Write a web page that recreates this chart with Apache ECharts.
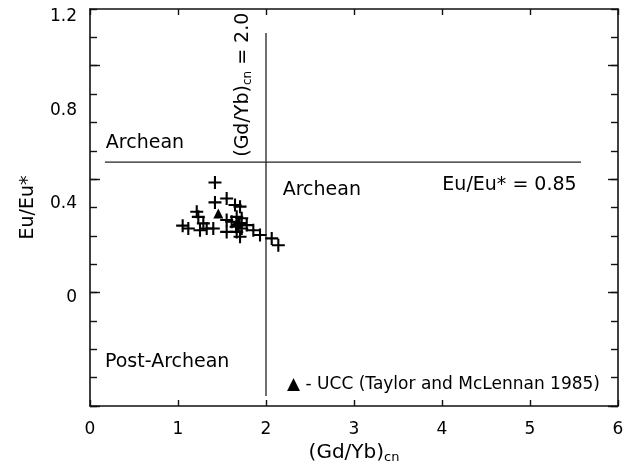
<!DOCTYPE html>
<html>
<head>
<meta charset="utf-8">
<script src="https://cdn.jsdelivr.net/npm/echarts@6/dist/echarts.min.js"></script>
<style>html,body{margin:0;padding:0;background:#fff}#c{width:633px;height:472px}</style>
</head>
<body>
<div id="c"></div>
<script>
// ---- data ----
const gdybCn = [1.42, 1.42, 1.553, 1.648, 1.705, 1.213, 1.553, 1.053, 1.117, 1.231, 1.288, 1.25, 1.326, 1.401, 1.553, 1.61, 1.667, 1.724, 1.685, 1.724, 1.667, 1.705, 1.781, 1.856, 1.932, 2.065, 2.14, 1.70, 1.66];
const euEuStar = [0.788, 0.718, 0.732, 0.709, 0.703, 0.685, 0.656, 0.636, 0.626, 0.667, 0.644, 0.62, 0.626, 0.626, 0.614, 0.65, 0.667, 0.662, 0.638, 0.626, 0.614, 0.597, 0.638, 0.62, 0.603, 0.591, 0.567, 0.645, 0.632];
const uccGdYb = [1.458];
const uccEuEu = [0.679];
const gdybLimitLine = [[2.0, 0.035], [2.0, 1.315]];
const euLimitLine = [[0.17, 0.86], [5.58, 0.86]];
const xTicks = [0, 1, 2, 3, 4, 5, 6];
const yTickLabels = [0, 0.4, 0.8, 1.2];
const annotationTexts = ['Archean', 'Archean', 'Eu/Eu* = 0.85', 'Post-Archean', '▲ - UCC (Taylor and McLennan 1985)', '(Gd/Yb){s|cn} = 2.0'];
const annotationX = [0.18, 2.19, 5.53, 0.17, 5.795, 1.74];
const annotationY = [0.928, 0.762, 0.779, 0.154, 0.076, 1.133];

// ---- styling ----
const FONT = 'DejaVu Sans';
const INK = '#000';
const AXIS = '#111';
const annoStyle = [
  {align: 'left', size: 19},
  {align: 'left', size: 19},
  {align: 'right', size: 19},
  {align: 'left', size: 19},
  {align: 'right', size: 17},
  {align: 'center', size: 19, rotate: 90}
];

const chart = echarts.init(document.getElementById('c'), null, {renderer: 'canvas'});

const baseY = {min: 0, max: 1.4, interval: 0.1};
const frameLine = {show: true, onZero: false, lineStyle: {color: AXIS, width: 1.6}};
const tickStyle = {color: AXIS, width: 1.4};

const option = {
  animation: false,
  backgroundColor: '#fff',
  textStyle: {fontFamily: FONT},
  grid: {left: 90, right: 15, top: 9, bottom: 66, containLabel: false},
  xAxis: [
    {
      type: 'value', position: 'bottom', min: xTicks[0], max: xTicks[xTicks.length - 1], interval: 1,
      axisLine: frameLine,
      axisTick: {show: true, inside: true, length: 6, lineStyle: tickStyle},
      axisLabel: {show: true, margin: 15, fontSize: 17, color: INK, fontFamily: FONT},
      splitLine: {show: false},
      name: '(Gd/Yb){s|cn}', nameLocation: 'middle', nameGap: 35,
      nameTextStyle: {fontSize: 20, color: INK, fontFamily: FONT,
        rich: {s: {fontSize: 13, color: INK, fontFamily: FONT, padding: [9, 0, 0, 0]}}}
    },
    {
      type: 'value', position: 'top', min: 0, max: 6, interval: 1,
      axisLine: frameLine,
      axisTick: {show: true, inside: true, length: 6, lineStyle: tickStyle},
      axisLabel: {show: false}, splitLine: {show: false}
    }
  ],
  yAxis: [
    Object.assign({
      type: 'value', position: 'left',
      axisLine: frameLine,
      axisTick: {show: true, inside: true, length: 7, lineStyle: tickStyle},
      axisLabel: {show: false}, splitLine: {show: false},
      name: 'Eu/Eu*', nameLocation: 'middle', nameGap: 52, nameRotate: 90,
      nameTextStyle: {fontSize: 19, color: INK, fontFamily: FONT}
    }, baseY),
    Object.assign({
      type: 'value', position: 'right',
      axisLine: frameLine,
      axisTick: {show: true, inside: true, length: 7, lineStyle: tickStyle},
      axisLabel: {show: false}, splitLine: {show: false}
    }, baseY),
    {
      // printed tick labels of the reference (offset from the tick marks)
      type: 'value', position: 'left', min: -0.4627, max: 1.2323,
      axisLine: {show: false, onZero: false}, axisTick: {show: false}, splitLine: {show: false},
      axisLabel: {show: true, customValues: yTickLabels, margin: 13, fontSize: 17, color: INK, fontFamily: FONT,
        formatter: v => String(Math.round(v * 10) / 10)}
    },
    {
      // longer major ticks, left
      type: 'value', position: 'left', min: 0, max: 1.4,
      axisLine: {show: false, onZero: false}, splitLine: {show: false}, axisLabel: {show: false},
      axisTick: {show: true, inside: true, length: 10, customValues: [0, 0.4, 0.8, 1.2], lineStyle: tickStyle}
    },
    {
      // longer major ticks, right
      type: 'value', position: 'right', min: 0, max: 1.4,
      axisLine: {show: false, onZero: false}, splitLine: {show: false}, axisLabel: {show: false},
      axisTick: {show: true, inside: true, length: 10, customValues: [0, 0.4, 0.8, 1.2], lineStyle: tickStyle}
    }
  ],
  series: [
    {
      type: 'line', xAxisIndex: 0, yAxisIndex: 0, data: gdybLimitLine, symbol: 'none',
      lineStyle: {color: '#222', width: 1.3}, silent: true, z: 2
    },
    {
      type: 'line', xAxisIndex: 0, yAxisIndex: 0, data: euLimitLine, symbol: 'none',
      lineStyle: {color: '#222', width: 1.3}, silent: true, z: 2
    },
    {
      type: 'scatter', xAxisIndex: 0, yAxisIndex: 0,
      data: gdybCn.map((x, i) => [x, euEuStar[i]]),
      symbol: 'path://M-1,0L1,0M0,-1L0,1', symbolSize: 13,
      itemStyle: {color: 'rgba(0,0,0,0)', borderColor: '#000', borderWidth: 2.1, opacity: 1}, z: 3
    },
    {
      type: 'scatter', xAxisIndex: 0, yAxisIndex: 0,
      data: uccGdYb.map((x, i) => [x, uccEuEu[i]]),
      symbol: 'triangle', symbolSize: 10, itemStyle: {color: '#000', opacity: 1}, z: 4
    },
    {
      type: 'scatter', xAxisIndex: 0, yAxisIndex: 0, symbolSize: 0, silent: true, z: 5,
      itemStyle: {opacity: 1},
      data: annotationTexts.map((t, i) => ({
        value: [annotationX[i], annotationY[i]],
        label: {
          show: true, position: 'inside', formatter: t,
          align: annoStyle[i].align, verticalAlign: 'middle',
          rotate: annoStyle[i].rotate || 0,
          fontSize: annoStyle[i].size, color: INK, fontFamily: FONT, opacity: 1,
          rich: {s: {fontSize: 12, color: INK, fontFamily: FONT, padding: [9, 0, 0, 0]}}
        }
      }))
    }
  ]
};
chart.setOption(option);
</script>
</body>
</html>
